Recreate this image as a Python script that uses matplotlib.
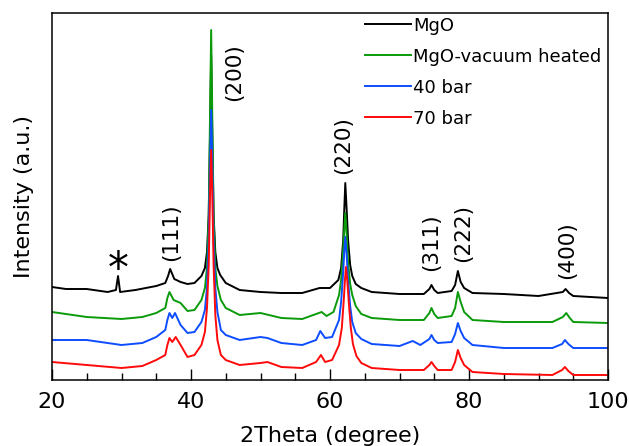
import matplotlib
matplotlib.use("Agg")
import matplotlib.pyplot as plt
from matplotlib.ticker import MultipleLocator

# 2theta (degree) and intensity (a.u.), one list per pattern
mgo_x = [20, 22, 25, 28, 29.2, 29.5, 29.8, 32, 35, 36.3, 36.7, 37.0, 37.6, 38.5, 39.5,
         40.5, 41.5, 42.0, 42.3, 42.55, 42.75, 42.9, 43.05, 43.25, 43.5, 43.8, 44.2,
         45, 47, 50, 53, 56, 58.5, 60, 61.2, 61.6, 61.9, 62.05, 62.2, 62.4, 62.6,
         62.9, 63.2, 63.7, 64.5, 66, 70, 73.5, 74.3, 74.6, 75.0, 75.5, 77.5, 78.0,
         78.4, 78.8, 79.3, 80.5, 85, 90, 93.5, 93.9, 94.4, 95, 100]
mgo_y = [93, 91, 91, 88, 90, 104, 88, 90, 94, 97, 104, 111, 101, 98, 96,
         97, 104, 112, 128, 165, 250, 325, 250, 165, 128, 112, 105,
         97, 90, 88, 87, 87, 92, 92, 100, 112, 140, 170, 197, 170, 140,
         115, 104, 96, 92, 88, 86, 86, 91, 95, 90, 87, 89, 95,
         109, 98, 92, 87, 86, 84, 88, 91, 87, 84, 82]

vac_x = [20, 25, 30, 33, 35, 36.3, 36.6, 36.9, 37.5, 38.5, 39.5, 40.5, 41.5, 42.0,
         42.3, 42.55, 42.75, 42.9, 43.05, 43.25, 43.5, 43.8, 44.3, 45, 47, 50, 53,
         56, 58.8, 59.5, 60.5, 61.3, 61.6, 61.9, 62.05, 62.2, 62.4, 62.6, 62.9,
         63.2, 63.7, 64.5, 66, 70, 73.5, 74.3, 74.6, 75.0, 75.5, 77.5, 78.0, 78.4,
         78.8, 79.3, 80.5, 85, 92, 93.5, 94, 94.5, 95, 100]
vac_y = [68, 63, 61, 63, 67, 72, 82, 88, 80, 77, 69, 70, 80, 92,
         112, 165, 270, 350, 270, 165, 112, 94, 80, 72, 65, 67, 62,
         61, 68, 64, 68, 85, 100, 130, 150, 167, 145, 118, 96,
         85, 74, 66, 62, 60, 60, 67, 72, 66, 62, 64, 72, 88,
         78, 68, 60, 58, 58, 63, 67, 62, 58, 57]

b40_x = [20, 25, 30, 33, 35, 36.3, 36.6, 36.9, 37.3, 37.7, 38.5, 39.5, 40.5, 41.5,
         42.0, 42.3, 42.55, 42.75, 42.9, 43.05, 43.25, 43.5, 43.8, 44.3, 45, 47, 50,
         51, 53, 56, 58.0, 58.6, 59.3, 60.3, 61.3, 61.6, 61.9, 62.05, 62.2, 62.4,
         62.6, 62.9, 63.2, 63.7, 64.5, 66, 70, 71.9, 73, 74.3, 74.6, 75.0, 75.5,
         77.5, 78.0, 78.4, 78.8, 79.3, 80.5, 85, 92, 93.4, 93.8, 94.3, 95, 100]
b40_y = [40, 40, 35, 37, 43, 50, 60, 67, 62, 67, 55, 47, 48, 58,
         70, 92, 140, 220, 270, 220, 140, 92, 68, 50, 45, 40, 43,
         42, 37, 35, 40, 49, 42, 43, 60, 78, 108, 128, 143, 125,
         100, 74, 58, 47, 41, 36, 34, 39, 35, 41, 45, 40, 37,
         38, 46, 57, 49, 42, 35, 32, 32, 36, 40, 36, 32, 32]

b70_x = [20, 25, 30, 33, 35, 36.3, 36.6, 36.9, 37.3, 37.8, 38.5, 39.5, 40.5, 41.5,
         42.0, 42.3, 42.55, 42.75, 42.9, 43.05, 43.25, 43.5, 43.8, 44.3, 45, 47, 50,
         51, 53, 56, 58.0, 58.7, 59.3, 60.3, 61.3, 61.7, 62.0, 62.15, 62.3, 62.5,
         62.7, 63.0, 63.3, 63.8, 64.5, 66, 70, 73.5, 74.3, 74.6, 75.0, 75.5, 77.5,
         78.0, 78.4, 78.8, 79.3, 80.5, 85, 92, 93.4, 93.8, 94.3, 95, 100]
b70_y = [18, 15, 12, 14, 20, 25, 35, 42, 38, 43, 35, 23, 25, 35,
         48, 72, 115, 190, 230, 190, 115, 65, 40, 25, 20, 15, 17,
         18, 13, 12, 18, 25, 18, 20, 35, 52, 82, 100, 113, 98,
         78, 52, 36, 24, 17, 12, 10, 10, 15, 18, 14, 10, 10,
         18, 30, 22, 15, 8, 6, 5, 10, 13, 9, 5, 5]

series_labels = ["MgO", "MgO-vacuum heated", "40 bar", "70 bar"]
series_colors = ["black", "#0a9a0a", "#0d4dff", "#ff0a0a"]

peak_labels = ["(111)", "(200)", "(220)", "(311)", "(222)", "(400)"]
peak_pos = [37.1, 46.2, 61.9, 74.6, 79.1, 94.1]
peak_text_y = [148, 308, 235, 138, 147, 130]


def main():
    fig = plt.figure(figsize=(6.29, 4.46), dpi=100)
    ax = fig.add_axes([52 / 629, 66 / 446, 556 / 629, 367 / 446])

    xs = [mgo_x, vac_x, b40_x, b70_x]
    ys = [mgo_y, vac_y, b40_y, b70_y]
    for x, y, lab, col in zip(xs, ys, series_labels, series_colors):
        ax.plot(x, y, color=col, linewidth=1.4, label=lab)

    for lab, px, py in zip(peak_labels, peak_pos, peak_text_y):
        ax.text(px, py, lab, rotation=90, ha="center", va="center", fontsize=15.5)
    ax.text(29.5, 110, "*", ha="center", va="center", fontsize=30)

    ax.set_xlim(20, 100)
    ax.set_ylim(0, 367)
    ax.xaxis.set_major_locator(MultipleLocator(20))
    ax.xaxis.set_minor_locator(MultipleLocator(5))
    ax.tick_params(axis="x", which="major", direction="in", length=8, width=1,
                   labelsize=16, pad=9)
    ax.tick_params(axis="x", which="minor", direction="in", length=5, width=1)
    ax.set_yticks([])
    for sp in ax.spines.values():
        sp.set_linewidth(1.1)

    ax.set_xlabel("2Theta (degree)", fontsize=16, labelpad=10)
    ax.set_ylabel("Intensity (a.u.)", fontsize=16, labelpad=13)

    ax.legend(loc="upper left", bbox_to_anchor=(0.55, 1.01), frameon=False,
              fontsize=13, handlelength=2.55, handletextpad=0.1, labelspacing=0.72,
              borderaxespad=0)

    fig.savefig("out.png", dpi=100)
    plt.close(fig)


if __name__ == "__main__":
    main()
